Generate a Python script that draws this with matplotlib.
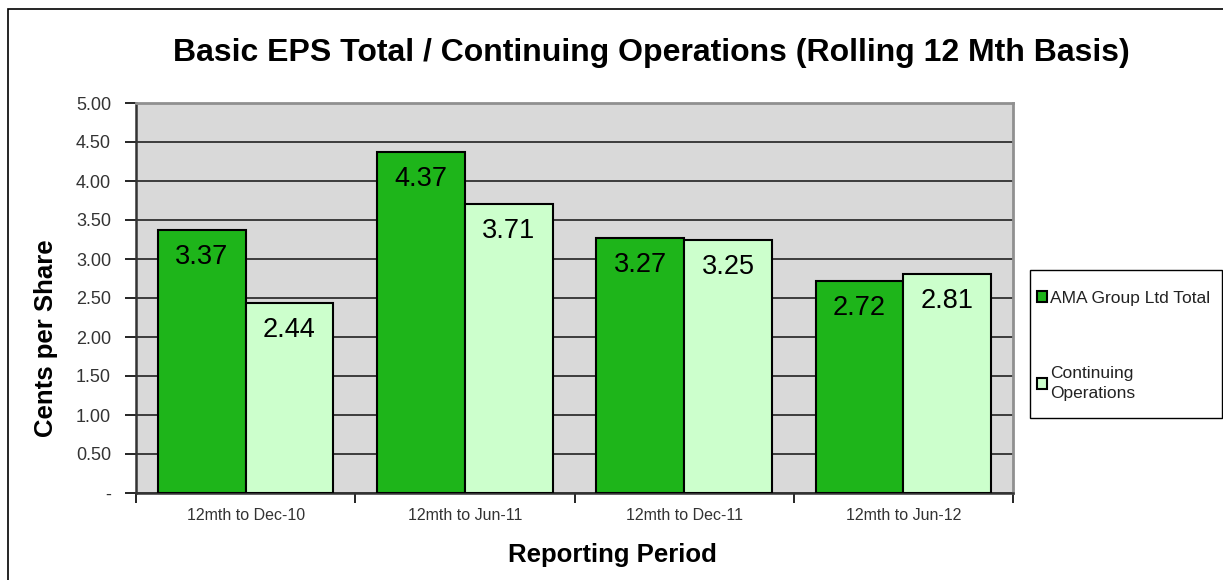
import matplotlib.pyplot as plt
import numpy as np
from matplotlib.ticker import FuncFormatter
from matplotlib.patches import Rectangle

periods = ["12mth to Dec-10", "12mth to Jun-11", "12mth to Dec-11", "12mth to Jun-12"]
total = [3.37, 4.37, 3.27, 2.72]
continuing = [2.44, 3.71, 3.25, 2.81]
series_names = ["AMA Group Ltd Total", "Continuing\nOperations"]

plt.rcParams['font.family'] = ['Liberation Sans', 'DejaVu Sans']

W, H = 1223, 580
fig = plt.figure(figsize=(W / 100, H / 100), dpi=100)
# outer chart border
fig.add_artist(Rectangle((8 / W, -0.05), 1.1, (H - 9) / H + 0.05, transform=fig.transFigure,
                         fill=False, edgecolor='black', linewidth=1.2))
ax = fig.add_axes([136 / W, 87 / H, (1013 - 136) / W, (493 - 103) / H])

x = np.arange(len(periods))
w = 0.4
ax.set_facecolor('#d9d9d9')
b1 = ax.bar(x - w / 2, total, w, color='#1eb51a', edgecolor='black', linewidth=1.5,
            label=series_names[0], zorder=3)
b2 = ax.bar(x + w / 2, continuing, w, color='#ccffcc', edgecolor='black', linewidth=1.5,
            label=series_names[1], zorder=3)

for bars, vals in [(b1, total), (b2, continuing)]:
    for r, v in zip(bars, vals):
        ax.text(r.get_x() + r.get_width() / 2, v - 0.35, f"{v:.2f}", ha='center', va='center',
                fontsize=19.5, zorder=4)

ax.set_xlim(-0.5, len(periods) - 0.5)
ax.set_ylim(0, 5)
ax.set_yticks(np.arange(0, 5.01, 0.5))
ax.yaxis.set_major_formatter(FuncFormatter(lambda v, p: "-" if v == 0 else f"{v:.2f}"))
ax.yaxis.grid(True, color='#222222', linewidth=1.2, zorder=1)
ax.set_axisbelow(True)
ax.set_xticks(np.arange(-0.5, len(periods) + 0.5, 1))
ax.set_xticklabels([])
ax.set_xticks(x, minor=True)
ax.set_xticklabels(periods, minor=True, fontsize=11.5, color='#333333')
ax.tick_params(axis='x', which='minor', length=0, pad=11)
ax.tick_params(axis='x', which='major', length=7, direction='out', width=1.2)
ax.tick_params(axis='y', length=8, direction='out', labelsize=13, width=1.2, pad=10,
               labelcolor='#333333')
for s in ['top', 'right']:
    ax.spines[s].set_color('#909090')
    ax.spines[s].set_linewidth(2)
for s in ['left', 'bottom']:
    ax.spines[s].set_linewidth(1.8)
    ax.spines[s].set_color('#333333')

fig.text(46 / W, 1 - 338 / H, "Cents per Share", rotation=90, ha='center', va='center',
         fontsize=18.5, fontweight='bold')
fig.text(612 / W, 1 - 555 / H, "Reporting Period", ha='center', va='center',
         fontsize=18.5, fontweight='bold')
fig.text(651 / W, 1 - 53 / H, "Basic EPS Total / Continuing Operations (Rolling 12 Mth Basis)",
         ha='center', va='center', fontsize=23, fontweight='bold')

# legend box drawn by hand, legend itself frameless
fig.add_artist(Rectangle((1030 / W, 1 - 418 / H), 192 / W, 148 / H, transform=fig.transFigure,
                         fill=True, facecolor='white', edgecolor='black', linewidth=1))
leg = fig.legend(handles=[b1, b2], loc='upper left', bbox_to_anchor=(1037 / W, 1 - 291 / H),
                 fontsize=12.5, frameon=False,
                 handlelength=0.6, handleheight=0.6, handletextpad=0.15, labelspacing=3.45,
                 borderpad=0, borderaxespad=0)
for t in leg.get_texts():
    t.set_color('#222222')
    t.set_linespacing(1.4)

fig.savefig("out.png", dpi=100)
